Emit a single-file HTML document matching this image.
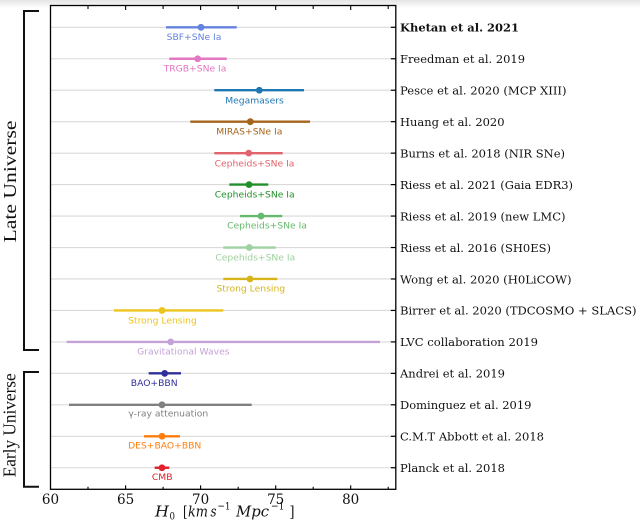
<!DOCTYPE html>
<html>
<head>
<meta charset="utf-8">
<style>
  html, body { margin: 0; padding: 0; background: #fff; }
  svg { display: block; }
  .tl { font-family: "DejaVu Serif", "Liberation Serif", serif; font-size: 13.5px; fill: #111; }
  .rl { font-family: "DejaVu Serif", "Liberation Serif", serif; font-size: 11.5px; fill: #111; }
  .pl { font-family: "DejaVu Sans", "Liberation Sans", sans-serif; font-size: 9.2px; }
  .big { font-family: "Liberation Serif", "DejaVu Serif", serif; font-size: 18px; fill: #111; }
  .xl { font-family: "DejaVu Serif", "Liberation Serif", serif; font-size: 14.5px; fill: #111; }
</style>
</head>
<body>
<svg width="640" height="526" viewBox="0 0 640 526" xmlns="http://www.w3.org/2000/svg">
  <defs>
    <linearGradient id="topg" x1="0" y1="0" x2="0" y2="1">
      <stop offset="0" stop-color="#e4e4e4"/>
      <stop offset="1" stop-color="#ffffff"/>
    </linearGradient>
  </defs>
  <rect x="0" y="0" width="640" height="526" fill="#fff"/>
  <rect x="0" y="0" width="640" height="8" fill="url(#topg)"/>

  <!-- gridlines -->
  <g stroke="#dadada" stroke-width="1.1">
    <line x1="50.5" x2="395.8" y1="27.3" y2="27.3"/>
    <line x1="50.5" x2="395.8" y1="58.76" y2="58.76"/>
    <line x1="50.5" x2="395.8" y1="90.22" y2="90.22"/>
    <line x1="50.5" x2="395.8" y1="121.68" y2="121.68"/>
    <line x1="50.5" x2="395.8" y1="153.14" y2="153.14"/>
    <line x1="50.5" x2="395.8" y1="184.6" y2="184.6"/>
    <line x1="50.5" x2="395.8" y1="216.06" y2="216.06"/>
    <line x1="50.5" x2="395.8" y1="247.52" y2="247.52"/>
    <line x1="50.5" x2="395.8" y1="278.98" y2="278.98"/>
    <line x1="50.5" x2="395.8" y1="310.44" y2="310.44"/>
    <line x1="50.5" x2="395.8" y1="341.9" y2="341.9"/>
    <line x1="50.5" x2="395.8" y1="373.36" y2="373.36"/>
    <line x1="50.5" x2="395.8" y1="404.82" y2="404.82"/>
    <line x1="50.5" x2="395.8" y1="436.28" y2="436.28"/>
    <line x1="50.5" x2="395.8" y1="467.74" y2="467.74"/>
  </g>

  <!-- error bars -->
  <g stroke-width="2.4" stroke-linecap="butt">
    <line x1="166" x2="236.7" y1="27.3" y2="27.3" stroke="#6482e0"/>
    <line x1="169.3" x2="226.7" y1="58.76" y2="58.76" stroke="#e377c2"/>
    <line x1="214.3" x2="304" y1="90.22" y2="90.22" stroke="#1f77b4"/>
    <line x1="190.3" x2="310" y1="121.68" y2="121.68" stroke="#a4641e"/>
    <line x1="214.3" x2="282.7" y1="153.14" y2="153.14" stroke="#e1636b"/>
    <line x1="229.3" x2="268.3" y1="184.6" y2="184.6" stroke="#22902a"/>
    <line x1="240" x2="282.3" y1="216.06" y2="216.06" stroke="#66ba6e"/>
    <line x1="223.3" x2="275.7" y1="247.52" y2="247.52" stroke="#9fd09f"/>
    <line x1="223.3" x2="277.3" y1="278.98" y2="278.98" stroke="#d6b41a"/>
    <line x1="114" x2="223.3" y1="310.44" y2="310.44" stroke="#ecc41c"/>
    <line x1="66.7" x2="380" y1="341.9" y2="341.9" stroke="#c4a2d8"/>
    <line x1="148.7" x2="181" y1="373.36" y2="373.36" stroke="#31309a"/>
    <line x1="69" x2="251.7" y1="404.82" y2="404.82" stroke="#808080"/>
    <line x1="144" x2="180" y1="436.28" y2="436.28" stroke="#ff7f0e"/>
    <line x1="154.7" x2="169.3" y1="467.74" y2="467.74" stroke="#e0202a"/>
  </g>
  <!-- dots -->
  <g>
    <circle cx="201" cy="27.3" r="3.4" fill="#6482e0"/>
    <circle cx="197.7" cy="58.76" r="3.4" fill="#e377c2"/>
    <circle cx="259.3" cy="90.22" r="3.4" fill="#1f77b4"/>
    <circle cx="250.3" cy="121.68" r="3.4" fill="#a4641e"/>
    <circle cx="248.7" cy="153.14" r="3.4" fill="#e1636b"/>
    <circle cx="249" cy="184.6" r="3.4" fill="#22902a"/>
    <circle cx="261" cy="216.06" r="3.4" fill="#66ba6e"/>
    <circle cx="249.3" cy="247.52" r="3.4" fill="#9fd09f"/>
    <circle cx="250" cy="278.98" r="3.4" fill="#d6b41a"/>
    <circle cx="162" cy="310.44" r="3.4" fill="#ecc41c"/>
    <circle cx="170.7" cy="341.9" r="3.4" fill="#c4a2d8"/>
    <circle cx="164.7" cy="373.36" r="3.4" fill="#31309a"/>
    <circle cx="162" cy="404.82" r="3.4" fill="#808080"/>
    <circle cx="162" cy="436.28" r="3.4" fill="#ff7f0e"/>
    <circle cx="162" cy="467.74" r="3.4" fill="#e0202a"/>
  </g>

  <!-- in-plot labels -->
  <g class="pl" text-anchor="middle">
    <text x="194" y="40" fill="#6482e0">SBF+SNe Ia</text>
    <text x="195" y="71.6" fill="#e377c2">TRGB+SNe Ia</text>
    <text x="254.5" y="103.3" fill="#1f77b4">Megamasers</text>
    <text x="249.3" y="134.3" fill="#a4641e">MIRAS+SNe Ia</text>
    <text x="254.5" y="166.3" fill="#e1636b">Cepheids+SNe Ia</text>
    <text x="254.7" y="197.3" fill="#22902a">Cepheids+SNe Ia</text>
    <text x="267" y="228.6" fill="#66ba6e">Cepheids+SNe Ia</text>
    <text x="255.3" y="260.3" fill="#9fd09f">Cepehids+SNe Ia</text>
    <text x="250.8" y="291.6" fill="#d6b41a">Strong Lensing</text>
    <text x="162.5" y="323.3" fill="#ecc41c">Strong Lensing</text>
    <text x="183.3" y="354.3" fill="#c4a2d8">Gravitational Waves</text>
    <text x="154.2" y="386" fill="#31309a">BAO+BBN</text>
    <text x="168.3" y="416.6" fill="#808080">γ-ray attenuation</text>
    <text x="164.7" y="448.6" fill="#ff7f0e">DES+BAO+BBN</text>
    <text x="162.2" y="480" fill="#e0202a">CMB</text>
  </g>

  <!-- spines -->
  <rect x="50.5" y="5.5" width="345.3" height="483.8" fill="none" stroke="#000" stroke-width="1.3"/>

  <!-- top / bottom ticks -->
  <g stroke="#000" stroke-width="1.1">
    <line x1="125.6" x2="125.6" y1="5.5" y2="10"/>
    <line x1="200.6" x2="200.6" y1="5.5" y2="10"/>
    <line x1="275.7" x2="275.7" y1="5.5" y2="10"/>
    <line x1="350.7" x2="350.7" y1="5.5" y2="10"/>
    <line x1="88" x2="88" y1="5.5" y2="9"/>
    <line x1="163.1" x2="163.1" y1="5.5" y2="9"/>
    <line x1="238.2" x2="238.2" y1="5.5" y2="9"/>
    <line x1="313.2" x2="313.2" y1="5.5" y2="9"/>
    <line x1="388.2" x2="388.2" y1="5.5" y2="9"/>

    <line x1="125.6" x2="125.6" y1="489.3" y2="485.3"/>
    <line x1="200.6" x2="200.6" y1="489.3" y2="485.3"/>
    <line x1="275.7" x2="275.7" y1="489.3" y2="485.3"/>
    <line x1="350.7" x2="350.7" y1="489.3" y2="485.3"/>
    <line x1="88" x2="88" y1="489.3" y2="486.8"/>
    <line x1="163.1" x2="163.1" y1="489.3" y2="486.8"/>
    <line x1="238.2" x2="238.2" y1="489.3" y2="486.8"/>
    <line x1="313.2" x2="313.2" y1="489.3" y2="486.8"/>
    <line x1="388.2" x2="388.2" y1="489.3" y2="486.8"/>
  </g>
  <!-- right ticks -->
  <g stroke="#000" stroke-width="1.2">
    <line x1="390.8" x2="395.8" y1="27.3" y2="27.3"/>
    <line x1="390.8" x2="395.8" y1="58.76" y2="58.76"/>
    <line x1="390.8" x2="395.8" y1="90.22" y2="90.22"/>
    <line x1="390.8" x2="395.8" y1="121.68" y2="121.68"/>
    <line x1="390.8" x2="395.8" y1="153.14" y2="153.14"/>
    <line x1="390.8" x2="395.8" y1="184.6" y2="184.6"/>
    <line x1="390.8" x2="395.8" y1="216.06" y2="216.06"/>
    <line x1="390.8" x2="395.8" y1="247.52" y2="247.52"/>
    <line x1="390.8" x2="395.8" y1="278.98" y2="278.98"/>
    <line x1="390.8" x2="395.8" y1="310.44" y2="310.44"/>
    <line x1="390.8" x2="395.8" y1="341.9" y2="341.9"/>
    <line x1="390.8" x2="395.8" y1="373.36" y2="373.36"/>
    <line x1="390.8" x2="395.8" y1="404.82" y2="404.82"/>
    <line x1="390.8" x2="395.8" y1="436.28" y2="436.28"/>
    <line x1="390.8" x2="395.8" y1="467.74" y2="467.74"/>
  </g>

  <!-- x tick labels -->
  <g class="tl" text-anchor="middle">
    <text x="50.5" y="504">60</text>
    <text x="125.6" y="504">65</text>
    <text x="200.6" y="504">70</text>
    <text x="275.7" y="504">75</text>
    <text x="350.7" y="504">80</text>
  </g>

  <!-- right labels -->
  <g class="rl">
    <text x="400" y="31.6" font-weight="bold" textLength="119" lengthAdjust="spacingAndGlyphs">Khetan et al. 2021</text>
    <text x="400" y="63.1" textLength="125" lengthAdjust="spacingAndGlyphs">Freedman et al. 2019</text>
    <text x="400" y="94.5" textLength="166.5" lengthAdjust="spacingAndGlyphs">Pesce et al. 2020 (MCP XIII)</text>
    <text x="400" y="126" textLength="104.5" lengthAdjust="spacingAndGlyphs">Huang et al. 2020</text>
    <text x="400" y="157.4" textLength="165" lengthAdjust="spacingAndGlyphs">Burns et al. 2018 (NIR SNe)</text>
    <text x="400" y="188.9" textLength="173" lengthAdjust="spacingAndGlyphs">Riess et al. 2021 (Gaia EDR3)</text>
    <text x="400" y="220.4" textLength="165.5" lengthAdjust="spacingAndGlyphs">Riess et al. 2019 (new LMC)</text>
    <text x="400" y="251.8" textLength="151" lengthAdjust="spacingAndGlyphs">Riess et al. 2016 (SH0ES)</text>
    <text x="400" y="283.3" textLength="171.5" lengthAdjust="spacingAndGlyphs">Wong et al. 2020 (H0LiCOW)</text>
    <text x="400" y="314.7" textLength="236.5" lengthAdjust="spacingAndGlyphs">Birrer et al. 2020 (TDCOSMO + SLACS)</text>
    <text x="400" y="346.2" textLength="138" lengthAdjust="spacingAndGlyphs">LVC collaboration 2019</text>
    <text x="400" y="377.7" textLength="105" lengthAdjust="spacingAndGlyphs">Andrei et al. 2019</text>
    <text x="400" y="409.1" textLength="131.5" lengthAdjust="spacingAndGlyphs">Dominguez et al. 2019</text>
    <text x="400" y="440.6" textLength="144" lengthAdjust="spacingAndGlyphs">C.M.T Abbott et al. 2018</text>
    <text x="400" y="472" textLength="105" lengthAdjust="spacingAndGlyphs">Planck et al. 2018</text>
  </g>

  <!-- x axis label -->
  <g class="xl">
    <text x="155" y="516.5" font-style="italic" textLength="14" lengthAdjust="spacingAndGlyphs">H</text>
    <text x="169.5" y="519.5" font-size="10" textLength="5.5" lengthAdjust="spacingAndGlyphs">0</text>
    <text x="183" y="516.5" textLength="4.5" lengthAdjust="spacingAndGlyphs">[</text>
    <text x="188" y="516.5" font-style="italic" textLength="20" lengthAdjust="spacingAndGlyphs">km</text>
    <text x="210.5" y="516.5" font-style="italic" textLength="6" lengthAdjust="spacingAndGlyphs">s</text>
    <text x="217.5" y="509.5" font-size="10.5" textLength="13" lengthAdjust="spacingAndGlyphs">−1</text>
    <text x="236" y="516.5" font-style="italic" textLength="33" lengthAdjust="spacingAndGlyphs">Mpc</text>
    <text x="271" y="509.5" font-size="10.5" textLength="13.5" lengthAdjust="spacingAndGlyphs">−1</text>
    <text x="289.5" y="516.5" textLength="5" lengthAdjust="spacingAndGlyphs">]</text>
  </g>

  <!-- brackets -->
  <g stroke="#111" stroke-width="2" fill="none">
    <polyline points="39,11 24,11 24,350 39,350"/>
    <polyline points="39,372 24,372 24,486.7 39,486.7"/>
  </g>
  <text class="big" transform="translate(16,181.5) rotate(-90)" text-anchor="middle" textLength="122" lengthAdjust="spacingAndGlyphs">Late Universe</text>
  <text class="big" transform="translate(15.5,425.3) rotate(-90)" text-anchor="middle" textLength="104" lengthAdjust="spacingAndGlyphs">Early Universe</text>
</svg>
</body>
</html>
